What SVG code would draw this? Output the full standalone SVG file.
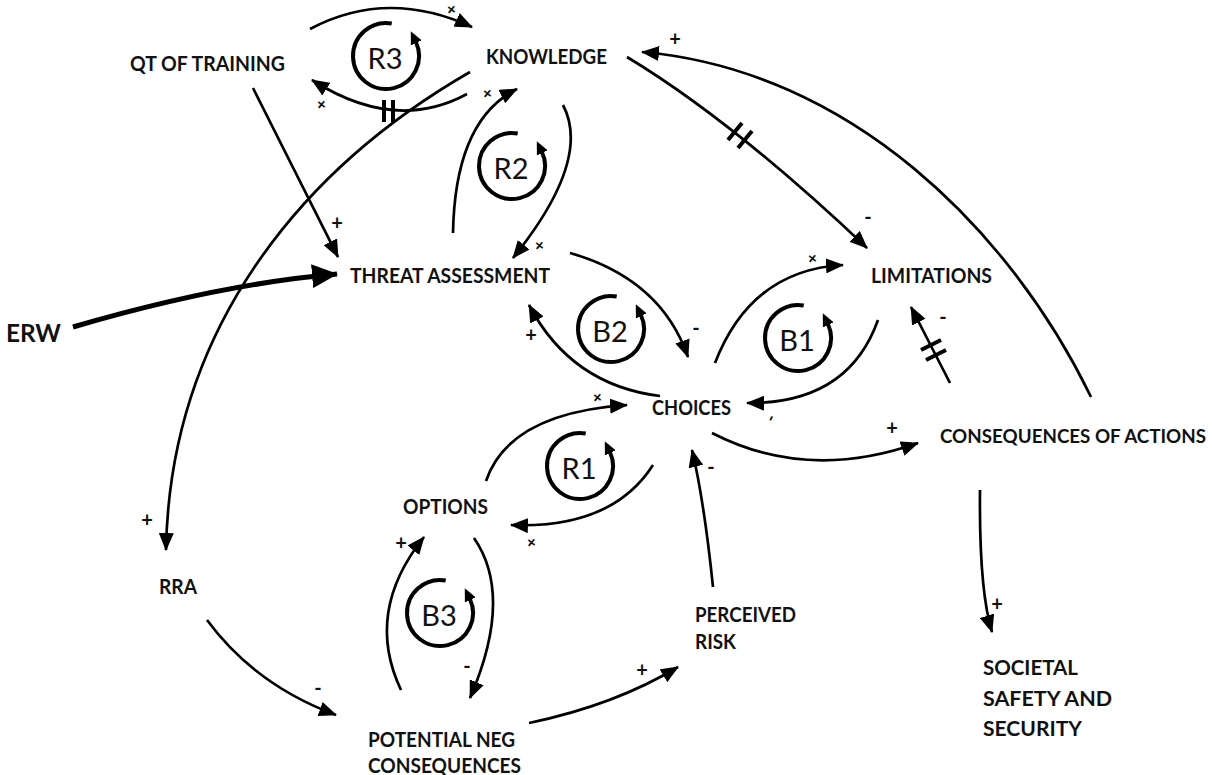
<svg xmlns="http://www.w3.org/2000/svg" width="1212" height="775" viewBox="0 0 1212 775">
  <defs>
    <marker id="arrow" markerUnits="userSpaceOnUse" markerWidth="18" markerHeight="15" viewBox="0 0 18 15" refX="17" refY="7.5" orient="auto">
      <path d="M0,0 L18,7.5 L0,15 z" fill="#000"/>
    </marker>
    <marker id="arrowBig" markerUnits="userSpaceOnUse" markerWidth="26" markerHeight="24" viewBox="0 0 26 24" refX="25" refY="12" orient="auto">
      <path d="M0,0 L26,12 L0,24 z" fill="#000"/>
    </marker>
    <marker id="loopArrow" markerUnits="userSpaceOnUse" markerWidth="13" markerHeight="12" viewBox="0 0 13 12" refX="1" refY="6" orient="auto">
      <path d="M0,0 L13,6 L0,12 z" fill="#000"/>
    </marker>
  </defs>
  <style>
    .node { font-family: Lato, "Liberation Sans", Arial, sans-serif; font-weight: bold; font-size: 20px; fill: #111; }
    .erw { font-size: 24px; }
    .long { font-size: 19px; }
    .link { fill: none; stroke: #000; stroke-width: 2.7; marker-end: url(#arrow); }
    .thick { stroke-width: 5; marker-end: url(#arrowBig); }
    .hash { stroke: #000; stroke-width: 4; fill: none; }
    .sign { font-family: Lato, "Liberation Sans", Arial, sans-serif; font-size: 20px; font-weight: bold; fill: #111; text-anchor: middle; dominant-baseline: central; }
    .tilted { font-size: 17px; }
    .loop { fill: none; stroke: #000; stroke-width: 4; marker-end: url(#loopArrow); }
    .loopText { font-family: Lato, "Liberation Sans", Arial, sans-serif; font-size: 29px; fill: #111; text-anchor: middle; dominant-baseline: central; }
  </style>
  <rect width="1212" height="775" fill="#fff"/>

  <!-- connectors -->
  <g id="connectors">
    <!-- QT of training <-> knowledge (R3) -->
    <path class="link" d="M310,29 Q387,-12 472,27"/>
    <path class="link" d="M467,94 Q395,133 312,80"/>
    <line class="hash" x1="384" y1="100" x2="384" y2="122"/>
    <line class="hash" x1="393" y1="100" x2="393" y2="122"/>
    <!-- knowledge -> RRA -->
    <path class="link" d="M470,72 C300,170 170,330 166,550"/>
    <!-- QT of training -> threat assessment -->
    <path class="link" d="M253,88 L338,257"/>
    <!-- ERW -> threat assessment -->
    <path class="link thick" d="M73,327 Q220,284 337,274"/>
    <!-- threat assessment <-> knowledge (R2) -->
    <path class="link" d="M453,233 Q455,120 517,89"/>
    <path class="link" d="M563,105 Q592,160 513,258"/>
    <!-- knowledge -> limitations (delayed) -->
    <path class="link" d="M627,57 Q733,121 867,248"/>
    <line class="hash" x1="728" y1="140" x2="742" y2="123"/>
    <line class="hash" x1="738" y1="148" x2="752" y2="131"/>
    <!-- consequences of actions -> knowledge -->
    <path class="link" d="M1091,397 C1010,230 850,70 642,52"/>
    <!-- threat assessment <-> choices (B2) -->
    <path class="link" d="M570,253 Q661,279 688,357"/>
    <path class="link" d="M660,396 Q571,385 529,305"/>
    <!-- choices <-> limitations (B1) -->
    <path class="link" d="M715,363 Q751,270 843,265"/>
    <path class="link" d="M878,320 Q848,404 747,403"/>
    <!-- consequences of actions -> limitations (delayed) -->
    <path class="link" d="M950,383 L911,307"/>
    <line class="hash" x1="921" y1="350" x2="941" y2="340"/>
    <line class="hash" x1="926" y1="360" x2="946" y2="350"/>
    <!-- choices -> consequences of actions -->
    <path class="link" d="M712,433 Q807,482 918,443"/>
    <!-- options <-> choices (R1) -->
    <path class="link" d="M486,481 Q509,413 627,405"/>
    <path class="link" d="M653,465 Q612,529 511,525"/>
    <!-- perceived risk -> choices -->
    <path class="link" d="M713,587 Q704,500 692,450"/>
    <!-- RRA -> potential neg consequences -->
    <path class="link" d="M207,620 Q255,685 336,715"/>
    <!-- potential neg consequences <-> options (B3) -->
    <path class="link" d="M401,690 Q364,612 424,537"/>
    <path class="link" d="M474,538 Q514,596 470,698"/>
    <!-- potential neg consequences -> perceived risk -->
    <path class="link" d="M529,723 Q615,705 678,667"/>
    <!-- consequences of actions -> societal safety and security -->
    <path class="link" d="M980,490 Q979,590 992,632"/>
  </g>

  <!-- polarity signs -->
  <g id="polarities">
    <text class="sign tilted" transform="translate(452,9) rotate(40)">+</text>
    <text class="sign tilted" transform="translate(322,104) rotate(40)">+</text>
    <text class="sign" x="147" y="519">+</text>
    <text class="sign" x="337" y="222">+</text>
    <text class="sign tilted" transform="translate(488,93) rotate(40)">+</text>
    <text class="sign tilted" transform="translate(540,245) rotate(40)">+</text>
    <text class="sign" x="868" y="216">-</text>
    <text class="sign" x="675" y="38">+</text>
    <text class="sign" x="696" y="327">-</text>
    <text class="sign" x="531" y="334">+</text>
    <text class="sign tilted" transform="translate(813,258) rotate(40)">+</text>
    <text class="sign tilted" transform="translate(770,418) rotate(-65)">-</text>
    <text class="sign" x="943" y="316">-</text>
    <text class="sign" x="892" y="427">+</text>
    <text class="sign tilted" transform="translate(598,397) rotate(40)">+</text>
    <text class="sign tilted" transform="translate(532,542) rotate(40)">+</text>
    <text class="sign" x="711" y="466">-</text>
    <text class="sign" x="318" y="687">-</text>
    <text class="sign" x="401" y="542">+</text>
    <text class="sign" x="467" y="665">-</text>
    <text class="sign" x="642" y="669">+</text>
    <text class="sign" x="997" y="603">+</text>
  </g>

  <!-- feedback loop markers -->
  <g id="loop-R3">
    <path class="loop" d="M391.7,23.5 A33,33 0 1 0 415.9,42"/>
    <text class="loopText" x="385" y="57">R3</text>
  </g>
  <g id="loop-R2">
    <path class="loop" d="M517.7,133.5 A33,33 0 1 0 541.9,152"/>
    <text class="loopText" x="511" y="167">R2</text>
  </g>
  <g id="loop-B2">
    <path class="loop" d="M616.7,296.5 A33,33 0 1 0 640.9,315"/>
    <text class="loopText" x="610" y="330">B2</text>
  </g>
  <g id="loop-B1">
    <path class="loop" d="M803.7,305.5 A33,33 0 1 0 827.9,324"/>
    <text class="loopText" x="797" y="339">B1</text>
  </g>
  <g id="loop-R1">
    <path class="loop" d="M585.7,433.5 A33,33 0 1 0 609.9,452"/>
    <text class="loopText" x="579" y="467">R1</text>
  </g>
  <g id="loop-B3">
    <path class="loop" d="M445.7,580.5 A33,33 0 1 0 469.9,599"/>
    <text class="loopText" x="439" y="614">B3</text>
  </g>

  <!-- variables -->
  <g id="qt-of-training"><text class="node" x="130" y="71" textLength="155" lengthAdjust="spacingAndGlyphs">QT OF TRAINING</text></g>
  <g id="knowledge"><text class="node" x="486" y="64" textLength="121" lengthAdjust="spacingAndGlyphs">KNOWLEDGE</text></g>
  <g id="threat-assessment"><text class="node" x="350" y="283" textLength="200" lengthAdjust="spacingAndGlyphs">THREAT ASSESSMENT</text></g>
  <g id="limitations"><text class="node" x="871" y="283" textLength="121" lengthAdjust="spacingAndGlyphs">LIMITATIONS</text></g>
  <g id="erw"><text class="node erw" x="6" y="342" textLength="55" lengthAdjust="spacingAndGlyphs">ERW</text></g>
  <g id="choices"><text class="node" x="652" y="415" textLength="79" lengthAdjust="spacingAndGlyphs">CHOICES</text></g>
  <g id="consequences-of-actions"><text class="node long" x="940" y="443" textLength="266" lengthAdjust="spacingAndGlyphs">CONSEQUENCES OF ACTIONS</text></g>
  <g id="options"><text class="node" x="403" y="514" textLength="85" lengthAdjust="spacingAndGlyphs">OPTIONS</text></g>
  <g id="rra"><text class="node" x="159" y="594" textLength="38" lengthAdjust="spacingAndGlyphs">RRA</text></g>
  <g id="perceived-risk">
    <text class="node" x="695" y="622" textLength="101" lengthAdjust="spacingAndGlyphs">PERCEIVED</text>
    <text class="node" x="695" y="649" textLength="41" lengthAdjust="spacingAndGlyphs">RISK</text>
  </g>
  <g id="potential-neg-consequences">
    <text class="node" x="368" y="747" textLength="147" lengthAdjust="spacingAndGlyphs">POTENTIAL NEG</text>
    <text class="node" x="368" y="773" textLength="153" lengthAdjust="spacingAndGlyphs">CONSEQUENCES</text>
  </g>
  <g id="societal-safety-and-security">
    <text class="node" x="983" y="675" textLength="95" lengthAdjust="spacingAndGlyphs">SOCIETAL</text>
    <text class="node" x="983" y="706" textLength="129" lengthAdjust="spacingAndGlyphs">SAFETY AND</text>
    <text class="node" x="983" y="736" textLength="99" lengthAdjust="spacingAndGlyphs">SECURITY</text>
  </g>
</svg>
